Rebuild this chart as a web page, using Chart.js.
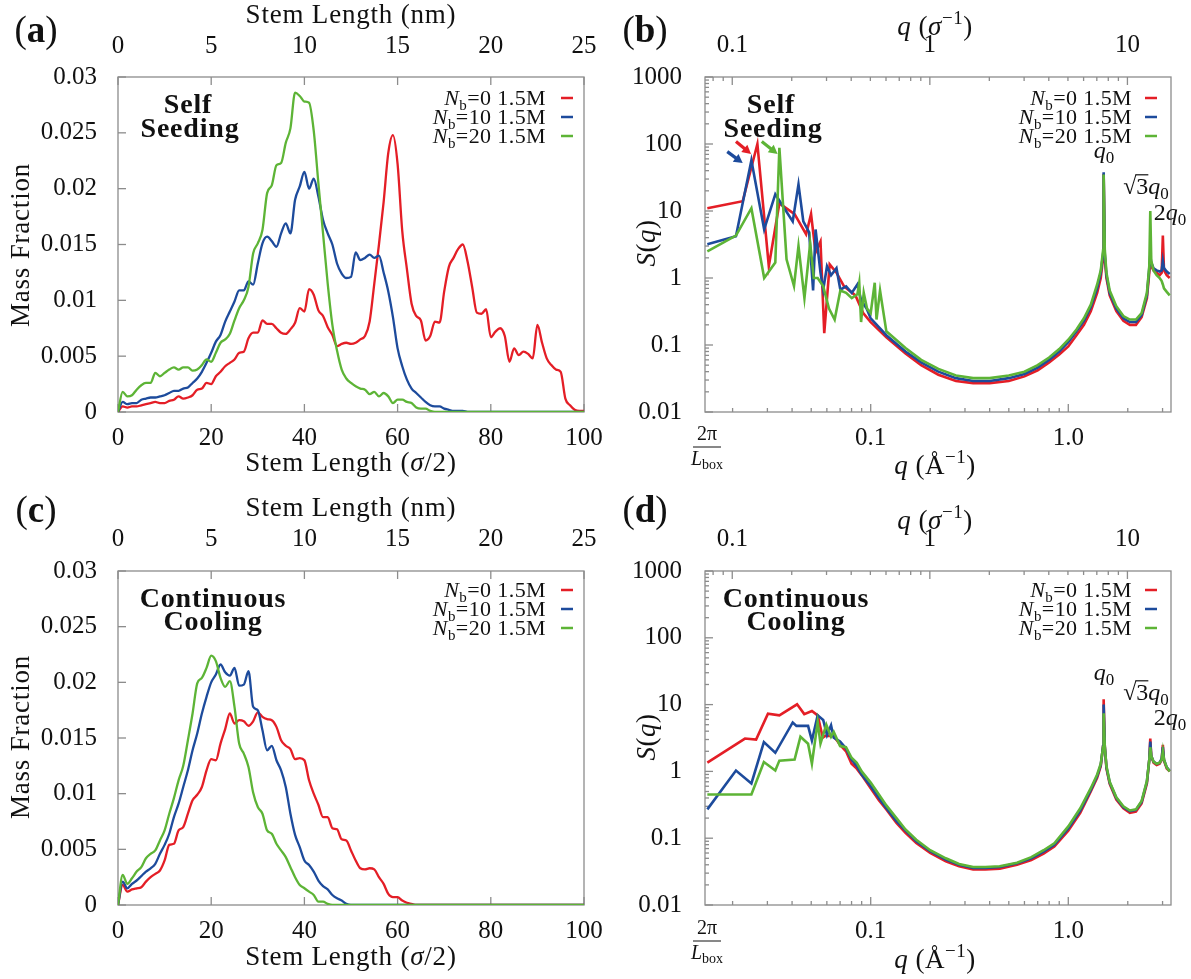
<!DOCTYPE html>
<html lang="en">
<head>
<meta charset="UTF-8">
<title>Stem length distribution and S(q)</title>
<script src="https://cdn.jsdelivr.net/npm/chart.js@4.4.0/dist/chart.umd.min.js"></script>
<style>
    body { margin: 0; background: #fff; }
    .page { position: relative; width: 1191px; height: 979px; overflow: hidden; background: #fff; }
    .page canvas { position: absolute; left: 0; top: 0; }
</style>
</head>
<body>
<div class="page">
    <canvas id="panelA" width="1191" height="979"></canvas>
    <canvas id="panelB" width="1191" height="979"></canvas>
    <canvas id="panelC" width="1191" height="979"></canvas>
    <canvas id="panelD" width="1191" height="979"></canvas>
</div>
<script>
// ---- data ----
const nbValues = [0, 10, 20];
const runTag = '1.5M';

const stemLength = [
    0, 1, 2, 3, 4, 5, 6, 7, 8, 9, 10, 11, 12, 13, 14, 15, 16, 17, 18, 19,
    20, 21, 22, 23, 24, 25, 26, 27, 28, 29, 30, 31, 32, 33, 34, 35, 36, 37, 38, 39,
    40, 41, 42, 43, 44, 45, 46, 47, 48, 49, 50, 51, 52, 53, 54, 55, 56, 57, 58, 59,
    60, 61, 62, 63, 64, 65, 66, 67, 68, 69, 70, 71, 72, 73, 74, 75, 76, 77, 78, 79,
    80, 81, 82, 83, 84, 85, 86, 87, 88, 89, 90, 91, 92, 93, 94, 95, 96, 97, 98, 99, 100
];

// (a) self seeding, mass fraction
const aNb0 = [
    0, 0.0005, 0.0004, 0.0005, 0.0005, 0.0006, 0.0007, 0.0008, 0.0009, 0.0008,
    0.0008, 0.001, 0.0011, 0.0014, 0.0012, 0.0013, 0.0015, 0.002, 0.0021, 0.0026,
    0.0025, 0.0032, 0.0036, 0.0041, 0.0044, 0.0047, 0.0053, 0.0054, 0.0066, 0.0071,
    0.0071, 0.0082, 0.0079, 0.0079, 0.0075, 0.0071, 0.007, 0.0074, 0.008, 0.0093,
    0.009, 0.011, 0.0105, 0.0091, 0.0086, 0.0076, 0.0069, 0.0059, 0.0061, 0.0062,
    0.0061, 0.0062, 0.0065, 0.0068, 0.0081, 0.0115, 0.015, 0.0188, 0.0232, 0.0248,
    0.0222, 0.0162, 0.0128, 0.0097, 0.0086, 0.0082, 0.0064, 0.0068, 0.0081, 0.008,
    0.0108, 0.013, 0.0138, 0.0146, 0.015, 0.0135, 0.0112, 0.0089, 0.0088, 0.0092,
    0.0067, 0.0072, 0.0075, 0.0068, 0.0045, 0.0057, 0.0051, 0.0054, 0.0052, 0.0048,
    0.0078, 0.0062, 0.0048, 0.0042, 0.0038, 0.0036, 0.0012, 0.0006, 0.0002, 0.0001,
    0.0001
];
const aNb10 = [
    0, 0.0009, 0.0007, 0.0008, 0.0008, 0.0011, 0.0012, 0.0013, 0.0013, 0.0014,
    0.0015, 0.0017, 0.0019, 0.0019, 0.0021, 0.0022, 0.0026, 0.003, 0.0036, 0.0044,
    0.0053, 0.0063, 0.0069, 0.0081, 0.009, 0.0099, 0.0109, 0.0109, 0.0117, 0.0114,
    0.0133, 0.0151, 0.0157, 0.0153, 0.0148, 0.016, 0.0169, 0.016, 0.019, 0.0202,
    0.0215, 0.02, 0.0209, 0.0193, 0.0172, 0.016, 0.015, 0.0133, 0.0124, 0.012,
    0.0121, 0.0143, 0.0136, 0.0138, 0.0141, 0.0138, 0.014, 0.0125, 0.0108, 0.0085,
    0.0057, 0.0041, 0.0029, 0.0021, 0.0017, 0.0013, 0.0009, 0.0006, 0.0005, 0.0005,
    0.0003, 0.0002, 0.0001, 0.0001, 0.0001, 0, 0, 0, 0, 0,
    0, 0, 0, 0, 0, 0, 0, 0, 0, 0,
    0, 0, 0, 0, 0, 0, 0, 0, 0, 0,
    0
];
const aNb20 = [
    0, 0.0018, 0.0014, 0.0015, 0.002, 0.0024, 0.0026, 0.0026, 0.0035, 0.0032,
    0.0035, 0.0038, 0.004, 0.0038, 0.004, 0.004, 0.0037, 0.0038, 0.0042, 0.0047,
    0.0045, 0.0053, 0.0062, 0.0065, 0.007, 0.0082, 0.0093, 0.01, 0.0112, 0.0142,
    0.0151, 0.0163, 0.0196, 0.0203, 0.0221, 0.0223, 0.0241, 0.0254, 0.0286, 0.0283,
    0.0278, 0.0277, 0.0252, 0.0205, 0.016, 0.0115, 0.0078, 0.0055, 0.0038, 0.003,
    0.0026, 0.0023, 0.0021, 0.002, 0.0016, 0.0018, 0.0014, 0.0017, 0.0014, 0.0008,
    0.0011, 0.0011, 0.0009, 0.0008, 0.0004, 0.0003, 0.0003, 0.0001, 0, 0,
    0, 0, 0, 0, 0, 0, 0, 0, 0, 0,
    0, 0, 0, 0, 0, 0, 0, 0, 0, 0,
    0, 0, 0, 0, 0, 0, 0, 0, 0, 0,
    0
];

// (c) continuous cooling, mass fraction
const cNb0 = [
    0, 0.0018, 0.0012, 0.0014, 0.0015, 0.0016, 0.0021, 0.0025, 0.0028, 0.0031,
    0.004, 0.0054, 0.0055, 0.0067, 0.007, 0.0082, 0.0094, 0.0099, 0.0106, 0.0121,
    0.0131, 0.013, 0.0145, 0.0158, 0.0172, 0.0163, 0.0166, 0.0165, 0.0161, 0.0165,
    0.0173, 0.0169, 0.0167, 0.0166, 0.016, 0.0148, 0.0143, 0.014, 0.0131, 0.0132,
    0.013, 0.0112, 0.01, 0.009, 0.0079, 0.0079, 0.0069, 0.0068, 0.0059, 0.0058,
    0.0049, 0.004, 0.0033, 0.0032, 0.0033, 0.0032, 0.0025, 0.0019, 0.001, 0.0007,
    0.0007, 0.0004, 0.0002, 0.0001, 0, 0, 0, 0, 0, 0,
    0, 0, 0, 0, 0, 0, 0, 0, 0, 0,
    0, 0, 0, 0, 0, 0, 0, 0, 0, 0,
    0, 0, 0, 0, 0, 0, 0, 0, 0, 0,
    0
];
const cNb10 = [
    0, 0.0021, 0.0015, 0.0019, 0.0022, 0.0026, 0.003, 0.0033, 0.0037, 0.0046,
    0.0054, 0.0064, 0.0079, 0.0091, 0.0106, 0.0121, 0.0139, 0.0154, 0.0172, 0.0187,
    0.02, 0.0207, 0.0216, 0.0209, 0.0206, 0.0213, 0.0197, 0.0198, 0.021, 0.0178,
    0.0175, 0.0157, 0.0139, 0.0143, 0.013, 0.0121, 0.0106, 0.0082, 0.0063, 0.0052,
    0.004, 0.0036, 0.003, 0.0022, 0.0017, 0.0014, 0.0009, 0.0006, 0.0004, 0.0001,
    0, 0, 0, 0, 0, 0, 0, 0, 0, 0,
    0, 0, 0, 0, 0, 0, 0, 0, 0, 0,
    0, 0, 0, 0, 0, 0, 0, 0, 0, 0,
    0, 0, 0, 0, 0, 0, 0, 0, 0, 0,
    0, 0, 0, 0, 0, 0, 0, 0, 0, 0,
    0
];
const cNb20 = [
    0, 0.0027, 0.0019, 0.0024, 0.003, 0.0034, 0.0042, 0.0046, 0.0049, 0.0058,
    0.0067, 0.0082, 0.0096, 0.0112, 0.0125, 0.0148, 0.0172, 0.0199, 0.0204, 0.0213,
    0.0224, 0.0219, 0.0204, 0.0196, 0.0201, 0.0178, 0.0145, 0.0136, 0.0124, 0.0101,
    0.0088, 0.0082, 0.0067, 0.0064, 0.0055, 0.0049, 0.0043, 0.0034, 0.0025, 0.0018,
    0.0015, 0.0012, 0.0009, 0.0003, 0.0003, 0.0001, 0, 0, 0, 0,
    0, 0, 0, 0, 0, 0, 0, 0, 0, 0,
    0, 0, 0, 0, 0, 0, 0, 0, 0, 0,
    0, 0, 0, 0, 0, 0, 0, 0, 0, 0,
    0, 0, 0, 0, 0, 0, 0, 0, 0, 0,
    0, 0, 0, 0, 0, 0, 0, 0, 0, 0,
    0
];

// (b) self seeding, S(q)
const bNb0Q = [0.0149, 0.0225, 0.0267, 0.0305, 0.0345, 0.0412, 0.0471, 0.0499, 0.0526, 0.0557, 0.0582, 0.062, 0.0671, 0.0733, 0.0837, 0.0916,
    0.1, 0.12, 0.15, 0.18, 0.22, 0.27, 0.33, 0.4, 0.5, 0.6, 0.7, 0.8, 0.9, 1.0, 1.1, 1.2, 1.3, 1.4, 1.46, 1.5,
    1.51, 1.53, 1.56, 1.62, 1.75, 1.9, 2.05, 2.2, 2.35, 2.5, 2.57, 2.6, 2.63, 2.7, 2.8, 2.9, 2.97, 3.01, 3.05, 3.15, 3.26];
const bNb0S = [11, 14, 100, 1.5, 13, 9, 4.5, 9, 2.4, 3.5, 0.15, 1.6, 1.2, 0.75, 0.55, 0.3,
    0.22, 0.13, 0.075, 0.05, 0.036, 0.029, 0.027, 0.027, 0.029, 0.034, 0.042, 0.055, 0.072, 0.095, 0.14, 0.2, 0.32, 0.6, 1.0, 2.0,
    36, 2.0, 1.0, 0.55, 0.32, 0.23, 0.2, 0.2, 0.26, 0.5, 1.2, 1.8, 1.5, 1.3, 1.2, 1.1, 1.2, 4.3, 1.3, 1.1, 1.0];
const bNb10Q = [0.0149, 0.0208, 0.0249, 0.0289, 0.0329, 0.0403, 0.0431, 0.0456, 0.0488, 0.0511, 0.0526, 0.0557, 0.0575, 0.0601, 0.063, 0.0671,
    0.0702, 0.0751, 0.0802, 0.0856, 0.0894, 0.0958,
    0.1, 0.12, 0.15, 0.18, 0.22, 0.27, 0.33, 0.4, 0.5, 0.6, 0.7, 0.8, 0.9, 1.0, 1.1, 1.2, 1.3, 1.4, 1.46, 1.5,
    1.51, 1.53, 1.56, 1.62, 1.75, 1.9, 2.05, 2.2, 2.35, 2.5, 2.57, 2.6, 2.63, 2.7, 2.8, 2.9, 2.97, 3.01, 3.05, 3.15, 3.26];
const bNb10S = [3.2, 4.2, 57, 5.3, 17.8, 7, 25, 7, 4.8, 0.65, 5.3, 1.2, 0.67, 1.5, 1.1, 1.4,
    0.67, 0.75, 0.6, 0.8, 0.47, 0.34,
    0.25, 0.14, 0.08, 0.055, 0.04, 0.032, 0.029, 0.029, 0.032, 0.037, 0.046, 0.06, 0.08, 0.11, 0.16, 0.23, 0.37, 0.7, 1.2, 2.3,
    38, 2.3, 1.1, 0.6, 0.35, 0.25, 0.22, 0.22, 0.28, 0.55, 1.4, 2.2, 1.7, 1.4, 1.3, 1.25, 1.3, 1.8, 1.4, 1.25, 1.15];
const bNb20Q = [0.0149, 0.0208, 0.0249, 0.0289, 0.0329, 0.0345, 0.0375, 0.0409, 0.0431, 0.0462, 0.0494, 0.0515, 0.0539, 0.0575,
    0.0615, 0.0657, 0.0702, 0.0751, 0.0802, 0.0856, 0.0875, 0.0894, 0.0922, 0.0958, 0.1, 0.1048, 0.107, 0.1115,
    0.12, 0.15, 0.18, 0.22, 0.27, 0.33, 0.4, 0.5, 0.6, 0.7, 0.8, 0.9, 1.0, 1.1, 1.2, 1.3, 1.4, 1.46, 1.5,
    1.51, 1.53, 1.56, 1.62, 1.75, 1.9, 2.05, 2.2, 2.35, 2.5, 2.57, 2.6, 2.63, 2.7, 2.8, 2.9, 2.97, 3.01, 3.05, 3.15, 3.26];
const bNb20S = [2.5, 4.3, 11, 1.0, 1.7, 88, 1.9, 0.76, 3.0, 0.5, 3.3, 1.0, 1.0, 0.75,
    0.35, 0.24, 0.65, 0.6, 0.5, 0.57, 0.85, 0.22, 0.6, 0.35, 0.3, 0.85, 0.24, 0.65,
    0.16, 0.09, 0.06, 0.044, 0.035, 0.032, 0.032, 0.035, 0.04, 0.05, 0.065, 0.087, 0.12, 0.17, 0.25, 0.4, 0.8, 1.3, 2.6,
    35, 2.6, 1.2, 0.65, 0.38, 0.27, 0.24, 0.24, 0.3, 0.6, 1.5, 10, 1.8, 1.3, 1.1, 1.0, 0.9, 0.8, 0.7, 0.62, 0.55];

// (d) continuous cooling, S(q)
const dNb0Q = [0.0149, 0.0231, 0.0263, 0.0302, 0.0345, 0.0424, 0.0461, 0.0504, 0.0539, 0.0572, 0.0589,
    0.065, 0.07, 0.075, 0.08, 0.085, 0.09, 0.1, 0.11, 0.12, 0.135, 0.15, 0.17, 0.2, 0.24, 0.28, 0.33, 0.38, 0.45, 0.55, 0.65,
    0.75, 0.85, 1.0, 1.15, 1.3, 1.4, 1.46, 1.5, 1.51, 1.53, 1.56, 1.62, 1.75, 1.9, 2.05, 2.2, 2.35, 2.5, 2.57, 2.6, 2.63,
    2.7, 2.8, 2.9, 2.97, 3.01, 3.05, 3.15, 3.26];
const dNb0S = [1.35, 3.1, 3.0, 7.3, 6.9, 10.1, 7.2, 8.0, 6.9, 3.2, 3.4,
    3.4, 2.5, 2.0, 1.3, 1.1, 0.88, 0.56, 0.37, 0.27, 0.17, 0.12, 0.085, 0.06, 0.045, 0.038, 0.034, 0.034, 0.035, 0.04, 0.047,
    0.059, 0.075, 0.13, 0.24, 0.5, 0.8, 1.2, 2.4, 12, 2.4, 1.1, 0.65, 0.38, 0.28, 0.24, 0.25, 0.33, 0.66, 1.5, 3.1, 1.7,
    1.35, 1.25, 1.3, 1.5, 2.5, 1.45, 1.1, 1.0];
const dNb10Q = [0.0149, 0.0208, 0.0249, 0.0288, 0.0329, 0.0403, 0.0421, 0.0482, 0.0504, 0.0539, 0.0575, 0.0601, 0.063,
    0.065, 0.07, 0.075, 0.08, 0.085, 0.09, 0.1, 0.11, 0.12, 0.135, 0.15, 0.17, 0.2, 0.24, 0.28, 0.33, 0.38, 0.45, 0.55, 0.65,
    0.75, 0.85, 1.0, 1.15, 1.3, 1.4, 1.46, 1.5, 1.51, 1.53, 1.56, 1.62, 1.75, 1.9, 2.05, 2.2, 2.35, 2.5, 2.57, 2.6, 2.63,
    2.7, 2.8, 2.9, 2.97, 3.01, 3.05, 3.15, 3.26];
const dNb10S = [0.27, 1.03, 0.66, 2.75, 1.9, 5.4, 4.8, 4.8, 2.9, 6.9, 5.9, 3.5, 4.9,
    3.2, 2.8, 2.2, 1.5, 1.2, 0.9, 0.6, 0.4, 0.28, 0.18, 0.13, 0.09, 0.064, 0.048, 0.04, 0.036, 0.036, 0.037, 0.042, 0.05,
    0.063, 0.08, 0.14, 0.26, 0.53, 0.85, 1.25, 2.4, 10, 2.4, 1.15, 0.68, 0.4, 0.29, 0.255, 0.265, 0.35, 0.7, 1.5, 2.8, 1.7,
    1.4, 1.3, 1.35, 1.55, 2.3, 1.5, 1.15, 1.02];
const dNb20Q = [0.0149, 0.0249, 0.0288, 0.0329, 0.0345, 0.0412, 0.0441, 0.0482, 0.0504, 0.0539, 0.0557, 0.0596, 0.063,
    0.065, 0.07, 0.075, 0.08, 0.085, 0.09, 0.1, 0.11, 0.12, 0.135, 0.15, 0.17, 0.2, 0.24, 0.28, 0.33, 0.38, 0.45, 0.55, 0.65,
    0.75, 0.85, 1.0, 1.15, 1.3, 1.4, 1.46, 1.5, 1.51, 1.53, 1.56, 1.62, 1.75, 1.9, 2.05, 2.2, 2.35, 2.5, 2.57, 2.6, 2.63,
    2.7, 2.8, 2.9, 2.97, 3.01, 3.05, 3.15, 3.26];
const dNb20S = [0.45, 0.45, 1.38, 1.03, 1.45, 1.5, 3.3, 2.6, 1.3, 5.5, 2.6, 5.0, 3.3,
    3.9, 2.4, 2.3, 1.6, 1.35, 1.0, 0.68, 0.45, 0.31, 0.2, 0.135, 0.095, 0.066, 0.05, 0.041, 0.037, 0.037, 0.038, 0.043, 0.052,
    0.066, 0.084, 0.15, 0.28, 0.56, 0.9, 1.3, 2.3, 7.4, 2.3, 1.2, 0.7, 0.41, 0.3, 0.26, 0.27, 0.36, 0.72, 1.5, 2.3, 1.7,
    1.4, 1.3, 1.35, 1.5, 2.0, 1.5, 1.15, 1.0];

// ticks
const stemTicks = [0, 20, 40, 60, 80, 100];
const stemLabels = ['0', '20', '40', '60', '80', '100'];
const nmTicks = [0, 5, 10, 15, 20, 25];
const nmLabels = ['0', '5', '10', '15', '20', '25'];
const massTicks = [0, 0.005, 0.01, 0.015, 0.02, 0.025, 0.03];
const massLabels = ['0', '0.005', '0.01', '0.015', '0.02', '0.025', '0.03'];
const qTicks = [0.1, 1];
const qLabels = ['0.1', '1.0'];
const qSigmaTicks = [0.1, 1, 10];
const qSigmaLabels = ['0.1', '1', '10'];
const sqTicks = [0.01, 0.1, 1, 10, 100, 1000];
const sqLabels = ['0.01', '0.1', '1', '10', '100', '1000'];

// axis ranges
const qMin = 0.0145, qMax = 3.31;   // 2pi/L_box .. end, in 1/Angstrom
const sigmaAng = 5.02;              // sigma in Angstrom, for the top q axis
const nmPerStem = 0.25;             // sigma/2 units -> nm

// arrows pointing to the low-q peaks in (b): [q, S] of tail and tip
const bArrows = [
    { series: 0, from: [0.0208, 109], to: [0.0248, 71] },
    { series: 1, from: [0.0188, 77], to: [0.0225, 52] },
    { series: 2, from: [0.0281, 109], to: [0.0338, 71] }
];

// ---- drawing ----
const serif = '"Liberation Serif", "DejaVu Serif", serif';
const ink = '#111';
const seriesColors = ['#e41e26', '#1d4b9c', '#5db436'];

const rm = t => ({ t }), it = t => ({ t, i: true }), bf = t => ({ t, b: true });
const sub = t => ({ t, sub: true }), sup = t => ({ t, sup: true });

function rich(ctx, parts, x, y, size, align, spacing) {
    ctx.save();
    ctx.fillStyle = ink;
    ctx.strokeStyle = ink;
    ctx.textAlign = 'left';
    ctx.textBaseline = 'alphabetic';
    ctx.letterSpacing = (spacing || 0) + 'px';
    const fonts = parts.map(p => (p.i ? 'italic ' : '') + (p.b ? 'bold ' : '') +
        Math.round(p.sub || p.sup ? size * 0.7 : size) + 'px ' + serif);
    const widths = parts.map((p, k) => { ctx.font = fonts[k]; return ctx.measureText(p.t).width; });
    const total = widths.reduce((s, w) => s + w, 0);
    let cx = align === 'right' ? x - total : align === 'center' ? x - total / 2 : x;
    parts.forEach((p, k) => {
        ctx.font = fonts[k];
        const dy = p.sub ? size * 0.22 : p.sup ? -size * 0.4 : 0;
        ctx.fillText(p.t, cx, y + dy);
        if (p.over) {
            ctx.lineWidth = 1.2;
            ctx.beginPath();
            ctx.moveTo(cx - 1, y - size * 0.8);
            ctx.lineTo(cx + widths[k], y - size * 0.8);
            ctx.stroke();
        }
        cx += widths[k];
    });
    ctx.restore();
}

function richUp(ctx, parts, x, y, size, spacing) {
    ctx.save();
    ctx.translate(x, y);
    ctx.rotate(-Math.PI / 2);
    rich(ctx, parts, 0, 0, size, 'center', spacing);
    ctx.restore();
}

function legend(ctx, rows, textRight, x0, x1) {
    seriesColors.forEach((c, k) => {
        rich(ctx, [it('N'), sub('b'), rm('=' + nbValues[k] + ' ' + runTag)], textRight, rows[k] + 7, 22, 'right', 0.4);
        ctx.save();
        ctx.strokeStyle = c;
        ctx.lineWidth = 2.5;
        ctx.beginPath();
        ctx.moveTo(x0, rows[k]);
        ctx.lineTo(x1, rows[k]);
        ctx.stroke();
        ctx.restore();
    });
}

function boxFraction(ctx, x, base) {
    rich(ctx, [rm('2π')], x, base, 20, 'center');
    ctx.save();
    ctx.strokeStyle = ink;
    ctx.lineWidth = 1;
    ctx.beginPath();
    ctx.moveTo(x - 14, base + 7);
    ctx.lineTo(x + 14, base + 7);
    ctx.stroke();
    ctx.restore();
    rich(ctx, [it('L'), sub('box')], x, base + 25, 20, 'center');
}

function peakLabels(ctx, y0, y1, y2) {
    rich(ctx, [it('q'), sub('0')], 1104, y0, 24, 'center');
    rich(ctx, [rm('√'), { t: '3', over: true }, it('q'), sub('0')], 1146, y1, 24, 'center');
    rich(ctx, [rm('2'), it('q'), sub('0')], 1170, y2, 24, 'center');
}

function drawArrow(ctx, chart, a) {
    const sx = chart.scales.x, sy = chart.scales.y;
    const x0 = sx.getPixelForValue(a.from[0]), y0 = sy.getPixelForValue(a.from[1]);
    const x1 = sx.getPixelForValue(a.to[0]), y1 = sy.getPixelForValue(a.to[1]);
    const ang = Math.atan2(y1 - y0, x1 - x0), head = 10;
    ctx.save();
    ctx.strokeStyle = ctx.fillStyle = seriesColors[a.series];
    ctx.lineWidth = 3.2;
    ctx.beginPath();
    ctx.moveTo(x0, y0);
    ctx.lineTo(x1 - head * 0.7 * Math.cos(ang), y1 - head * 0.7 * Math.sin(ang));
    ctx.stroke();
    ctx.beginPath();
    ctx.moveTo(x1, y1);
    ctx.lineTo(x1 - head * Math.cos(ang - 0.5), y1 - head * Math.sin(ang - 0.5));
    ctx.lineTo(x1 - head * Math.cos(ang + 0.5), y1 - head * Math.sin(ang + 0.5));
    ctx.closePath();
    ctx.fill();
    ctx.restore();
}

function minorLog(lo, hi) {
    const out = [];
    for (let e = Math.floor(Math.log10(lo)); e <= Math.ceil(Math.log10(hi)); e++) {
        for (let m = 2; m <= 9; m++) {
            const v = m * Math.pow(10, e);
            if (v > lo && v < hi) out.push(v);
        }
    }
    return out;
}

// frame and inward tick marks, under the curves
function frameTicks(minor) {
    return {
        id: 'frameTicks',
        beforeDatasetsDraw(chart) {
            const { ctx, chartArea: a, scales } = chart;
            ctx.save();
            ctx.strokeStyle = '#8c8c8c';
            ctx.lineWidth = 1.3;
            ctx.strokeRect(a.left, a.top, a.right - a.left, a.bottom - a.top);
            const mark = (id, v, len) => {
                const p = scales[id].getPixelForValue(v);
                ctx.beginPath();
                if (id === 'x') { ctx.moveTo(p, a.bottom); ctx.lineTo(p, a.bottom - len); }
                else if (id === 'x2') { ctx.moveTo(p, a.top); ctx.lineTo(p, a.top + len); }
                else { ctx.moveTo(a.left, p); ctx.lineTo(a.left + len, p); }
                ctx.stroke();
            };
            ['x', 'x2', 'y'].forEach(id => {
                scales[id].ticks.forEach(t => mark(id, t.value, 8));
                (minor[id] || []).forEach(v => mark(id, v, 4));
            });
            ctx.restore();
        }
    };
}

function axis(type, position, min, max, ticks, labels, size, pad) {
    const horiz = position === 'top' || position === 'bottom';
    return {
        type, position, min, max,
        grid: { display: false },
        border: { display: false },
        ticks: {
            autoSkip: false, maxRotation: 0, minRotation: 0, padding: pad, color: ink,
            font: { family: serif, size: 25 },
            callback: (v, i) => labels[i]
        },
        afterBuildTicks: s => { s.ticks = ticks.map(v => ({ value: v })); },
        afterFit: s => {
            if (horiz) s.height = size; else s.width = size;
            s.paddingLeft = s.paddingRight = s.paddingTop = s.paddingBottom = 0;
        }
    };
}

function series(xs, ys, k, smooth) {
    return {
        data: xs.map((x, i) => ({ x, y: ys[i] })),
        showLine: true,
        borderColor: seriesColors[k],
        borderWidth: smooth ? 2.3 : 2.6,
        pointRadius: 0,
        fill: false,
        order: 2 - k,
        tension: 0,
        cubicInterpolationMode: smooth ? 'monotone' : 'default'
    };
}

function panel(id, cfg) {
    new Chart(document.getElementById(id), {
        type: 'scatter',
        data: { datasets: cfg.datasets },
        options: {
            responsive: false,
            animation: false,
            events: [],
            layout: { padding: cfg.pad },
            plugins: { legend: { display: false }, tooltip: { enabled: false } },
            scales: { x: cfg.x, x2: cfg.x2, y: cfg.y }
        },
        plugins: [frameTicks(cfg.minor), { id: 'labels', afterDraw: chart => cfg.draw(chart.ctx, chart) }]
    });
}

// (a)
panel('panelA', {
    pad: { left: 0, top: 0, right: 607, bottom: 499 },
    datasets: [series(stemLength, aNb0, 0, true), series(stemLength, aNb10, 1, true), series(stemLength, aNb20, 2, true)],
    x: axis('linear', 'bottom', 0, 100, stemTicks, stemLabels, 68, 3),
    x2: axis('linear', 'top', 0, 100 * nmPerStem, nmTicks, nmLabels, 77, 8),
    y: axis('linear', 'left', 0, 0.03, massTicks, massLabels, 118, 13),
    minor: {},
    draw(ctx) {
        rich(ctx, [rm('('), bf('a'), rm(')')], 36, 42, 37, 'center');
        rich(ctx, [rm('Stem Length (nm)')], 351, 23, 27, 'center', 0.8);
        rich(ctx, [rm('Stem Length ('), it('σ'), rm('/2)')], 351, 471, 27, 'center', 0.8);
        richUp(ctx, [rm('Mass Fraction')], 29, 245, 27, 0.8);
        legend(ctx, [98, 117, 136], 546, 561, 573);
        rich(ctx, [bf('Self')], 188, 113, 28, 'center', 0.8);
        rich(ctx, [bf('Seeding')], 190, 137, 28, 'center', 0.8);
    }
});

// (b)
panel('panelB', {
    pad: { left: 595, top: 0, right: 20, bottom: 499 },
    datasets: [series(bNb0Q, bNb0S, 0, false), series(bNb10Q, bNb10S, 1, false), series(bNb20Q, bNb20S, 2, false)],
    x: axis('logarithmic', 'bottom', qMin, qMax, qTicks, qLabels, 68, 3),
    x2: axis('logarithmic', 'top', qMin * sigmaAng, qMax * sigmaAng, qSigmaTicks, qSigmaLabels, 77, 9),
    y: axis('logarithmic', 'left', 0.01, 1000, sqTicks, sqLabels, 110, 15),
    minor: { x: minorLog(qMin, qMax), x2: minorLog(qMin * sigmaAng, qMax * sigmaAng), y: minorLog(0.01, 1000) },
    draw(ctx, chart) {
        rich(ctx, [rm('('), bf('b'), rm(')')], 645, 42, 37, 'center');
        rich(ctx, [it('q'), rm(' ('), it('σ'), sup('−1'), rm(')')], 935, 35, 27, 'center', 0.5);
        rich(ctx, [it('q'), rm(' (Å'), sup('−1'), rm(')')], 935, 474, 27, 'center', 0.5);
        richUp(ctx, [it('S'), rm('('), it('q'), rm(')')], 655, 243, 27, 0.5);
        legend(ctx, [98, 117, 136], 1132, 1145, 1157);
        rich(ctx, [bf('Self')], 771, 113, 28, 'center', 0.8);
        rich(ctx, [bf('Seeding')], 773, 137, 28, 'center', 0.8);
        peakLabels(ctx, 158, 194, 220);
        boxFraction(ctx, 707, 440);
        bArrows.forEach(a => drawArrow(ctx, chart, a));
    }
});

// (c)
panel('panelC', {
    pad: { left: 0, top: 480, right: 607, bottom: 0 },
    datasets: [series(stemLength, cNb0, 0, true), series(stemLength, cNb10, 1, true), series(stemLength, cNb20, 2, true)],
    x: axis('linear', 'bottom', 0, 100, stemTicks, stemLabels, 74, 3),
    x2: axis('linear', 'top', 0, 100 * nmPerStem, nmTicks, nmLabels, 91, 9),
    y: axis('linear', 'left', 0, 0.03, massTicks, massLabels, 118, 13),
    minor: {},
    draw(ctx) {
        rich(ctx, [rm('('), bf('c'), rm(')')], 36, 522, 37, 'center');
        rich(ctx, [rm('Stem Length (nm)')], 351, 516, 27, 'center', 0.8);
        rich(ctx, [rm('Stem Length ('), it('σ'), rm('/2)')], 351, 965, 27, 'center', 0.8);
        richUp(ctx, [rm('Mass Fraction')], 29, 737, 27, 0.8);
        legend(ctx, [590, 609, 628], 546, 561, 573);
        rich(ctx, [bf('Continuous')], 213, 607, 28, 'center', 0.8);
        rich(ctx, [bf('Cooling')], 213, 630, 28, 'center', 0.8);
    }
});

// (d)
panel('panelD', {
    pad: { left: 595, top: 480, right: 20, bottom: 0 },
    datasets: [series(dNb0Q, dNb0S, 0, false), series(dNb10Q, dNb10S, 1, false), series(dNb20Q, dNb20S, 2, false)],
    x: axis('logarithmic', 'bottom', qMin, qMax, qTicks, qLabels, 74, 3),
    x2: axis('logarithmic', 'top', qMin * sigmaAng, qMax * sigmaAng, qSigmaTicks, qSigmaLabels, 91, 9),
    y: axis('logarithmic', 'left', 0.01, 1000, sqTicks, sqLabels, 110, 15),
    minor: { x: minorLog(qMin, qMax), x2: minorLog(qMin * sigmaAng, qMax * sigmaAng), y: minorLog(0.01, 1000) },
    draw(ctx) {
        rich(ctx, [rm('('), bf('d'), rm(')')], 645, 522, 37, 'center');
        rich(ctx, [it('q'), rm(' ('), it('σ'), sup('−1'), rm(')')], 935, 529, 27, 'center', 0.5);
        rich(ctx, [it('q'), rm(' (Å'), sup('−1'), rm(')')], 935, 968, 27, 'center', 0.5);
        richUp(ctx, [it('S'), rm('('), it('q'), rm(')')], 655, 737, 27, 0.5);
        legend(ctx, [590, 609, 628], 1132, 1145, 1157);
        rich(ctx, [bf('Continuous')], 796, 607, 28, 'center', 0.8);
        rich(ctx, [bf('Cooling')], 796, 630, 28, 'center', 0.8);
        peakLabels(ctx, 680, 700, 725);
        boxFraction(ctx, 707, 934);
    }
});
</script>
</body>
</html>
